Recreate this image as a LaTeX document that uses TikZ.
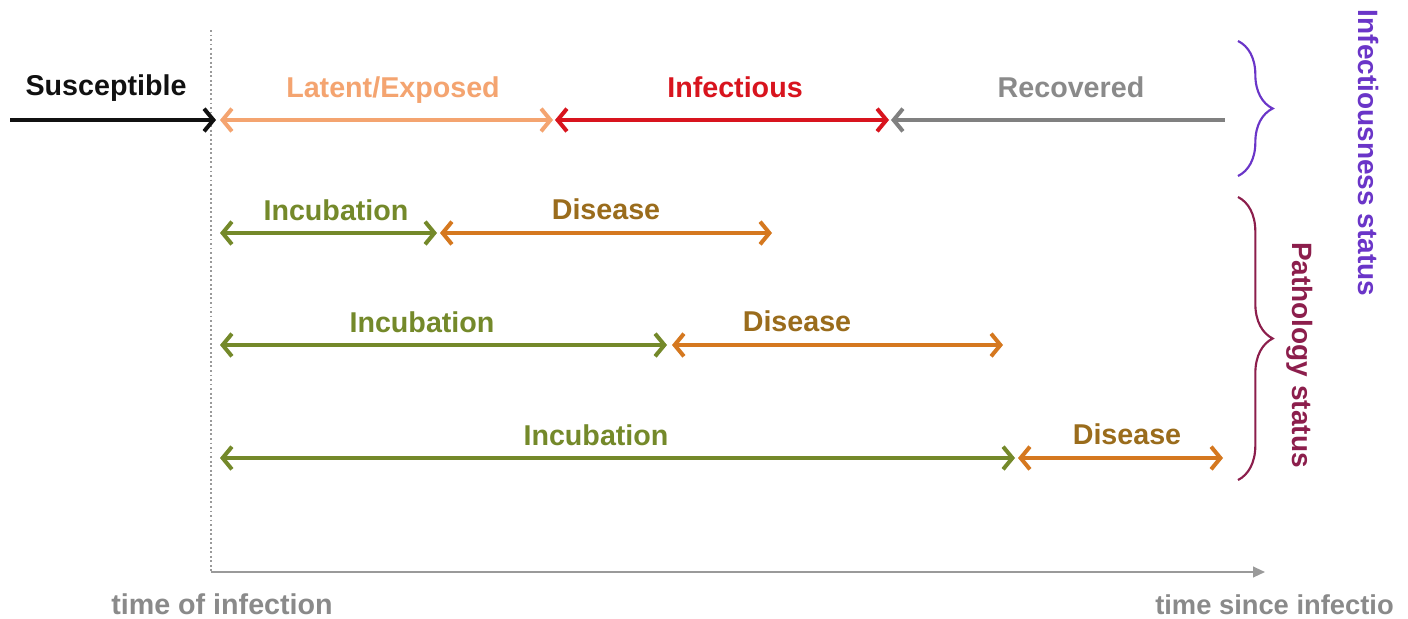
\documentclass[tikz,border=0pt]{standalone}
\usepackage{fontspec}
\setmainfont{Liberation Sans}
\usetikzlibrary{arrows.meta,decorations.pathreplacing}
\definecolor{cBlack}{HTML}{111111}
\definecolor{cLatent}{HTML}{F4A470}
\definecolor{cInf}{HTML}{D8141E}
\definecolor{cRec}{HTML}{808080}
\definecolor{cRecT}{HTML}{8A8A8A}
\definecolor{cInc}{HTML}{74892A}
\definecolor{cDis}{HTML}{D5781F}
\definecolor{cDisT}{HTML}{9A6C1C}
\definecolor{cPurple}{HTML}{6A35C8}
\definecolor{cMaroon}{HTML}{8C1E4C}
\definecolor{cAxis}{HTML}{9A9A9A}
\tikzset{
  lbl/.style={font=\fontsize{21.5}{24}\selectfont\bfseries, anchor=base, inner sep=0pt},
  span/.style={line width=3pt, {Straight Barb[length=7pt,width=17pt]}-{Straight Barb[length=7pt,width=17pt]}},
  rspan/.style={line width=3pt, -{Straight Barb[length=7pt,width=17pt]}},
  lspan/.style={line width=3pt, {Straight Barb[length=7pt,width=17pt]}-},
  brc/.style={decorate, decoration={brace, amplitude=26pt}, line width=1.6pt},
}
\begin{document}
\begin{tikzpicture}[x=0.75pt,y=-0.75pt]
\useasboundingbox (0,0) rectangle (1408,618);
\clip (0,0) rectangle (1408,618);
\fill[white] (0,0) rectangle (1408,618);

% time axis
\coordinate (vt) at (211,30);
\coordinate (o) at (211,572);
\coordinate (xe) at (1265,572);
\draw[cAxis, dotted, line width=1.4pt] (vt) -- (o);
\draw[cAxis, line width=1.5pt, -{Triangle[length=9pt,width=8pt]}] (o) -- (xe);
\node[lbl, text=cRecT] (t0) at (222,614) {time of infection};
\node[lbl, text=cRecT, anchor=base west, font=\fontsize{20.5}{24}\selectfont\bfseries] (t1) at (1155,614) {time since infectio};

% row 0
\coordinate (s0) at (10,120);
\coordinate (s1) at (216,120);
\coordinate (a0) at (220,120);
\coordinate (a1) at (553,120);
\coordinate (b0) at (555,120);
\coordinate (b1) at (889,120);
\coordinate (c0) at (891,120);
\coordinate (c1) at (1225,120);
\draw[rspan, cBlack] (s0) -- (s1);
\draw[span, cLatent] (a0) -- (a1);
\draw[span, cInf] (b0) -- (b1);
\draw[lspan, cRec] (c0) -- (c1);
\node[lbl, text=cBlack] (sus) at (106,95) {Susceptible};
\node[lbl, text=cLatent] (lat) at (393,97) {Latent/Exposed};
\node[lbl, text=cInf] (inf) at (735,97) {Infectious};
\node[lbl, text=cRecT] (rec) at (1071,97) {Recovered};

% row 1
\coordinate (i10) at (220,233);
\coordinate (i11) at (437,233);
\coordinate (d10) at (440,233);
\coordinate (d11) at (772,233);
\draw[span, cInc] (i10) -- (i11);
\draw[span, cDis] (d10) -- (d11);
\node[lbl, text=cInc] (inc1) at (336,220) {Incubation};
\node[lbl, text=cDisT] (dis1) at (606,219) {Disease};

% row 2
\coordinate (i20) at (220,345);
\coordinate (i21) at (667,345);
\coordinate (d20) at (672,345);
\coordinate (d21) at (1003,345);
\draw[span, cInc] (i20) -- (i21);
\draw[span, cDis] (d20) -- (d21);
\node[lbl, text=cInc] (inc2) at (422,332) {Incubation};
\node[lbl, text=cDisT] (dis2) at (797,331) {Disease};

% row 3
\coordinate (i30) at (220,458);
\coordinate (i31) at (1015,458);
\coordinate (d30) at (1018,458);
\coordinate (d31) at (1223,458);
\draw[span, cInc] (i30) -- (i31);
\draw[span, cDis] (d30) -- (d31);
\node[lbl, text=cInc] (inc3) at (596,445) {Incubation};
\node[lbl, text=cDisT] (dis3) at (1127,444) {Disease};

% braces
\coordinate (pb0) at (1238,41);
\coordinate (pb1) at (1238,176);
\coordinate (mb0) at (1238,197);
\coordinate (mb1) at (1238,480);
\draw[brc, cPurple] (pb0) -- (pb1);
\draw[brc, cMaroon] (mb0) -- (mb1);
\node[font=\fontsize{21}{24}\selectfont\bfseries, text=cPurple, rotate=-90, inner sep=0pt] (infst) at (1368,153) {Infectiousness status};
\node[font=\fontsize{21}{24}\selectfont\bfseries, text=cMaroon, rotate=-90, anchor=base, inner sep=0pt] (patst) at (1292,355) {Pathology status};
\end{tikzpicture}
\end{document}
